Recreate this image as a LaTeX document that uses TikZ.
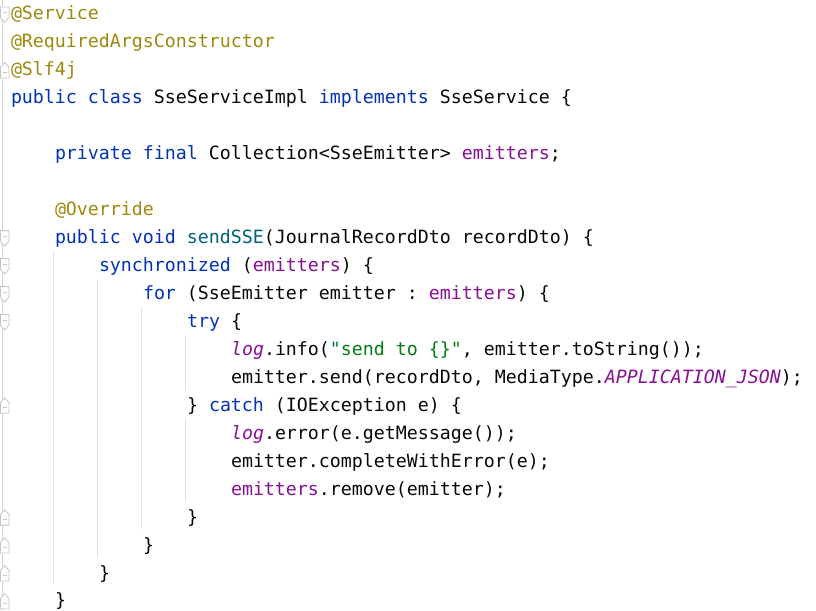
\documentclass[tikz,border=0pt]{standalone}
\usepackage{fontspec}
\setmonofont{DejaVu Sans Mono}
\definecolor{txt}{HTML}{080808}
\definecolor{kwc}{HTML}{0033B3}
\definecolor{annc}{HTML}{9E880D}
\definecolor{fldc}{HTML}{871094}
\definecolor{mthc}{HTML}{00627A}
\definecolor{strc}{HTML}{067D17}
\definecolor{guidec}{HTML}{E2E2E2}
\definecolor{gutterc}{HTML}{D6D6D6}
\definecolor{foldc}{HTML}{C4C4C4}
\newcommand\ckw[1]{\textcolor{kwc}{#1}}
\newcommand\cann[1]{\textcolor{annc}{#1}}
\newcommand\cfld[1]{\textcolor{fldc}{#1}}
\newcommand\cmth[1]{\textcolor{mthc}{#1}}
\newcommand\cstr[1]{\textcolor{strc}{#1}}
\newcommand\cstat[1]{\textcolor{fldc}{\itshape #1}}
\tikzset{
  code/.style={anchor=base west, inner sep=0pt, outer sep=0pt, text=txt,
    font=\ttfamily\frenchspacing\fontsize{18.27pt}{22pt}\selectfont},
  guide/.style={draw=guidec, line width=1pt},
  foldmark/.style={draw=foldc, fill=white, line width=0.8pt},
}
\newcommand\cl[4]{\node[code] (#1) at ({11pt+11pt*#2},{-20pt-27.95pt*(#3-1)}) {#4};}
\newcommand\foldstart[1]{%
  \filldraw[foldmark] (0.5pt,{-(14.5pt+27.95pt*(#1-1))+7.5pt}) -- (9pt,{-(14.5pt+27.95pt*(#1-1))+7.5pt})
    -- (9pt,{-(14.5pt+27.95pt*(#1-1))-3pt}) -- (4.75pt,{-(14.5pt+27.95pt*(#1-1))-8pt})
    -- (0.5pt,{-(14.5pt+27.95pt*(#1-1))-3pt}) -- cycle;
  \draw[foldc, line width=0.8pt] (2.5pt,{-(14.5pt+27.95pt*(#1-1))+2pt}) -- (7pt,{-(14.5pt+27.95pt*(#1-1))+2pt});}
\newcommand\foldend[1]{%
  \filldraw[foldmark] (0.5pt,{-(14.5pt+27.95pt*(#1-1))-7.5pt}) -- (9pt,{-(14.5pt+27.95pt*(#1-1))-7.5pt})
    -- (9pt,{-(14.5pt+27.95pt*(#1-1))+3pt}) -- (4.75pt,{-(14.5pt+27.95pt*(#1-1))+8pt})
    -- (0.5pt,{-(14.5pt+27.95pt*(#1-1))+3pt}) -- cycle;
  \draw[foldc, line width=0.8pt] (2.5pt,{-(14.5pt+27.95pt*(#1-1))-2pt}) -- (7pt,{-(14.5pt+27.95pt*(#1-1))-2pt});}
\begin{document}
\begin{tikzpicture}[x=1pt,y=1pt]
\useasboundingbox[fill=white] (0,0) rectangle (816,-610);
% gutter line
\draw[gutterc, line width=1pt] (2.5,0) -- (2.5,-610);
% indent guides
\draw[guide] (53,-251) -- (53,-584);
\draw[guide] (97,-279) -- (97,-557);
\draw[guide] (141,-307) -- (141,-529);
\draw[guide] (185,-335) -- (185,-391);
\draw[guide] (185,-419) -- (185,-501);
% fold markers
\foldstart{1}
\foldend{3}
\foldstart{9}
\foldstart{10}
\foldstart{11}
\foldstart{12}
\foldend{15}
\foldend{19}
\foldend{20}
\foldend{21}
\foldend{22}
% code lines
\cl{l1}{0}{1}{\cann{@Service}}
\cl{l2}{0}{2}{\cann{@RequiredArgsConstructor}}
\cl{l3}{0}{3}{\cann{@Slf4j}}
\cl{l4}{0}{4}{\ckw{public class} SseServiceImpl \ckw{implements} SseService \{}
\cl{l6}{4}{6}{\ckw{private final} Collection<SseEmitter> \cfld{emitters};}
\cl{l8}{4}{8}{\cann{@Override}}
\cl{l9}{4}{9}{\ckw{public void} \cmth{sendSSE}(JournalRecordDto recordDto) \{}
\cl{l10}{8}{10}{\ckw{synchronized} (\cfld{emitters}) \{}
\cl{l11}{12}{11}{\ckw{for} (SseEmitter emitter : \cfld{emitters}) \{}
\cl{l12}{16}{12}{\ckw{try} \{}
\cl{l13}{20}{13}{\cstat{log}.info(\cstr{"send to \{\}"}, emitter.toString());}
\cl{l14}{20}{14}{emitter.send(recordDto, MediaType.\cstat{APPLICATION\_JSON});}
\cl{l15}{16}{15}{\} \ckw{catch} (IOException e) \{}
\cl{l16}{20}{16}{\cstat{log}.error(e.getMessage());}
\cl{l17}{20}{17}{emitter.completeWithError(e);}
\cl{l18}{20}{18}{\cfld{emitters}.remove(emitter);}
\cl{l19}{16}{19}{\}}
\cl{l20}{12}{20}{\}}
\cl{l21}{8}{21}{\}}
\cl{l22}{4}{22}{\}}
\end{tikzpicture}
\end{document}
